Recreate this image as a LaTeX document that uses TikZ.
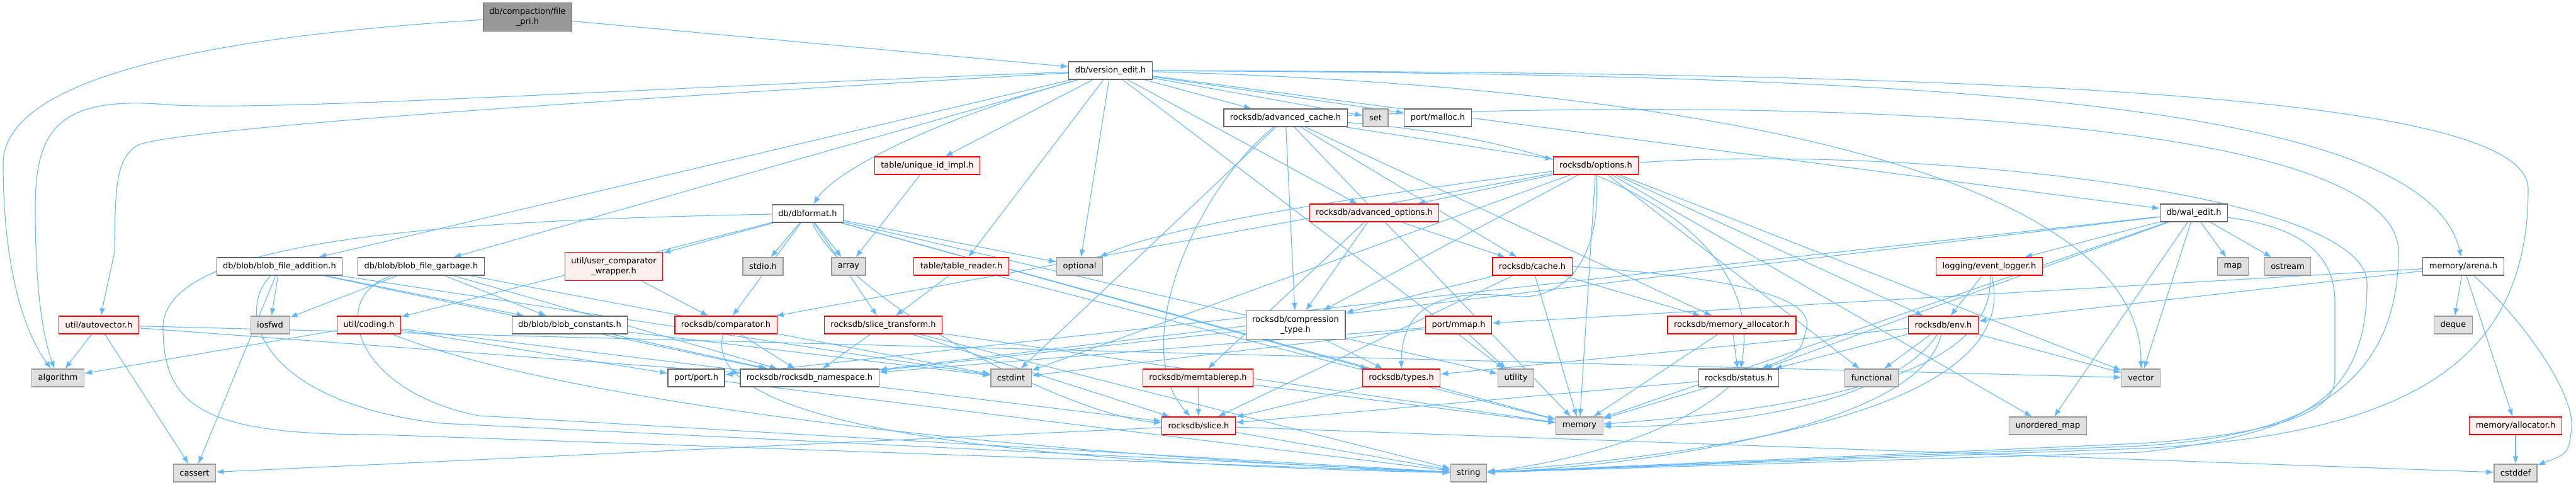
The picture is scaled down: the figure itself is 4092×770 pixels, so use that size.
\documentclass[tikz,border=0pt]{standalone}
\usepackage{fontspec}
\setmainfont{DejaVu Sans}
\usetikzlibrary{arrows.meta,backgrounds}
\definecolor{edgeblue}{HTML}{63B8FF}
\definecolor{sysfill}{HTML}{E0E0E0}
\definecolor{sysdraw}{HTML}{999999}
\definecolor{plaindraw}{HTML}{666666}
\definecolor{cutfill}{HTML}{FFF0F0}
\definecolor{rootfill}{HTML}{999999}
\tikzset{
  plainfile/.style={
    shape = rectangle,
    draw = plaindraw,
    fill = white,
    line width = 0.6pt,
    inner xsep = 5pt,
    inner ysep = 0pt,
    minimum height = 14pt,
    font = \fontsize{6.5}{7.8}\selectfont
  },
  sysfile/.style={plainfile, fill = sysfill, draw = sysdraw},
  cutfile/.style={plainfile, fill = cutfill, draw = red},
  rootfile/.style={plainfile, fill = rootfill, align = center, minimum height = 22.5pt},
  dbl/.style={align = center, minimum height = 22.5pt},
  incl/.style={draw = edgeblue, line width = 0.55pt, -{Latex[length=6pt,width=4.5pt]}},
}

\begin{document}
\begin{tikzpicture}[x=0.5pt,y=-0.5pt]
  \useasboundingbox (0,0) rectangle (4092,770);

  % files, row by row
  \node[rootfile] (filepri) at (838,27) {db/compaction/file\\\_pri.h};
  \node[plainfile] (verEdit) at (1764,112) {db/version\_edit.h};
  \node[plainfile] (advCache) at (2042,187) {rocksdb/advanced\_cache.h};
  \node[sysfile] (set) at (2185,187) {set};
  \node[plainfile] (malloc) at (2284,187) {port/malloc.h};
  \node[cutfile] (uniqueId) at (1473,263) {table/unique\_id\_impl.h};
  \node[cutfile] (options) at (2535,263) {rocksdb/options.h};
  \node[plainfile] (dbformat) at (1283,339) {db/dbformat.h};
  \node[cutfile] (advOpts) at (2183,338) {rocksdb/advanced\_options.h};
  \node[plainfile] (walEdit) at (3485,338) {db/wal\_edit.h};

  \node[plainfile] (blobAdd) at (444,423) {db/blob/blob\_file\_addition.h};
  \node[plainfile] (blobGarb) at (669,423) {db/blob/blob\_file\_garbage.h};
  \node[cutfile, dbl] (ucw) at (975,423) {util/user\_comparator\\\_wrapper.h};
  \node[sysfile] (stdio) at (1212,423) {stdio.h};
  \node[sysfile] (array) at (1348,423) {array};
  \node[cutfile] (tableReader) at (1527,423) {table/table\_reader.h};
  \node[sysfile] (optional) at (1715,423) {optional};
  \node[cutfile] (cache) at (2434,423) {rocksdb/cache.h};
  \node[cutfile] (eventLogger) at (3160,423) {logging/event\_logger.h};
  \node[sysfile] (map) at (3547,423) {map};
  \node[sysfile] (ostream) at (3634,423) {ostream};
  \node[plainfile] (arena) at (3913,423) {memory/arena.h};

  \node[cutfile] (autovec) at (157,516) {util/autovector.h};
  \node[sysfile] (iosfwd) at (429,516) {iosfwd};
  \node[cutfile] (coding) at (586,516) {util/coding.h};
  \node[plainfile] (blobConst) at (905,516) {db/blob/blob\_constants.h};
  \node[cutfile] (comparator) at (1153,516) {rocksdb/comparator.h};
  \node[cutfile] (sliceTrans) at (1403,516) {rocksdb/slice\_transform.h};
  \node[plainfile, dbl] (compType) at (2058,516) {rocksdb/compression\\\_type.h};
  \node[cutfile] (mmap) at (2317,516) {port/mmap.h};
  \node[cutfile] (memAlloc) at (2751,516) {rocksdb/memory\_allocator.h};
  \node[cutfile] (env) at (3087,516) {rocksdb/env.h};
  \node[sysfile] (deque) at (3897,516) {deque};

  \node[sysfile] (algorithm) at (92,600) {algorithm};
  \node[plainfile] (port) at (1106,600) {port/port.h};
  \node[plainfile] (nspace) at (1286,600) {rocksdb/rocksdb\_namespace.h};
  \node[sysfile] (cstdint) at (1606,600) {cstdint};
  \node[cutfile] (memtablerep) at (1903,600) {rocksdb/memtablerep.h};
  \node[cutfile] (types) at (2226,600) {rocksdb/types.h};
  \node[sysfile] (utility) at (2408,600) {utility};
  \node[plainfile] (status) at (2762,600) {rocksdb/status.h};
  \node[sysfile] (functional) at (2973,600) {functional};
  \node[sysfile] (vector) at (3401,600) {vector};

  \node[cutfile] (slice) at (1904,676) {rocksdb/slice.h};
  \node[sysfile] (memory) at (2509,676) {memory};
  \node[sysfile] (umap) at (3253,676) {unordered\_map};
  \node[cutfile] (allocator) at (3996,676) {memory/allocator.h};

  \node[sysfile] (cassert) at (309,751) {cassert};
  \node[sysfile] (string) at (2333,751) {string};
  \node[sysfile] (cstddef) at (3996,751) {cstddef};

  \begin{pgfonlayer}{background}
    % db/compaction/file_pri.h
    \draw[incl] (filepri) -- (verEdit);
    \draw[incl] (filepri) .. controls (300,60) and (5,130) .. (5,260) .. controls (5,430) and (40,530) .. (algorithm);

    % db/version_edit.h
    \draw[incl] (verEdit) .. controls (1000,140) and (400,180) .. (250,165) .. controls (90,155) and (56,210) .. (56,330) .. controls (56,470) and (70,540) .. (algorithm);
    \draw[incl] (verEdit) .. controls (1100,150) and (300,200) .. (220,230) .. controls (183,250) and (183,300) .. (182,400) -- (autovec);
    \draw[incl] (verEdit) -- (blobAdd);
    \draw[incl] (verEdit) -- (blobGarb);
    \draw[incl] (verEdit) .. controls (1450,200) and (1320,280) .. (dbformat);
    \draw[incl] (verEdit) -- (uniqueId);
    \draw[incl] (verEdit) -- (tableReader);
    \draw[incl] (verEdit) -- (optional);
    \draw[incl] (verEdit) -- (advCache);
    \draw[incl] (verEdit) -- (set);
    \draw[incl] (verEdit) -- (malloc);
    \draw[incl] (verEdit) -- (advOpts);
    \draw[incl] (verEdit) -- (walEdit);
    \draw[incl] (verEdit) -- (utility);
    \draw[incl] (verEdit) .. controls (2800,140) and (3401,300) .. (vector);
    \draw[incl] (verEdit) .. controls (3000,118) and (3850,150) .. (arena);
    \draw[incl] (verEdit) .. controls (3200,115) and (4016,150) .. (4016,300) .. controls (4016,560) and (3850,690) .. (3400,712) -- (string);

    % db/blob/blob_file_addition.h
    \draw[incl] (blobAdd) -- (cassert);
    \draw[incl] (blobAdd) -- (iosfwd);
    \draw[incl] (blobAdd) -- (blobConst);
    \draw[incl] (blobAdd) -- (nspace);
    \draw[incl] (blobAdd) -- (cstdint);
    \draw[incl] (blobAdd) .. controls (370,500) and (420,640) .. (700,672) -- (string);

    % db/blob/blob_file_garbage.h
    \draw[incl] (blobGarb) -- (iosfwd);
    \draw[incl] (blobGarb) -- (blobConst);
    \draw[incl] (blobGarb) -- (nspace);
    \draw[incl] (blobGarb) -- (cstdint);
    \draw[incl] (blobGarb) .. controls (520,470) and (560,620) .. (760,660) -- (string);

    % util/autovector.h
    \draw[incl] (autovec) -- (algorithm);
    \draw[incl] (autovec) -- (cassert);
    \draw[incl] (autovec) -- (nspace);
    \draw[incl] (autovec) -- (vector);

    % util/coding.h
    \draw[incl] (coding) -- (algorithm);
    \draw[incl] (coding) -- (port);
    \draw[incl] (coding) -- (slice);
    \draw[incl] (coding) .. controls (900,640) and (1600,720) .. (string);

    % db/dbformat.h
    \draw[incl] (dbformat) -- (ucw);
    \draw[incl] (dbformat) -- (coding);
    \draw[incl] (dbformat) -- (comparator);
    \draw[incl] (dbformat) -- (stdio);
    \draw[incl] (dbformat) -- (array);
    \draw[incl] (dbformat) -- (sliceTrans);
    \draw[incl] (dbformat) -- (optional);
    \draw[incl] (dbformat) .. controls (1350,480) and (1700,660) .. (slice);
    \draw[incl] (dbformat) -- (types);
    \draw[incl] (dbformat) -- (memory);
    \draw[incl] (dbformat) -- (utility);
    \draw[incl] (dbformat) .. controls (700,350) and (259,380) .. (259,520) .. controls (259,650) and (330,690) .. (600,690) -- (string);

    % single includes
    \draw[incl] (uniqueId) -- (array);
    \draw[incl] (ucw) -- (comparator);
    \draw[incl] (blobConst) -- (cstdint);
    \draw[incl] (blobConst) -- (nspace);
    \draw[incl] (comparator) -- (nspace);
    \draw[incl] (comparator) .. controls (1100,700) and (1800,740) .. (string);
    \draw[incl] (sliceTrans) -- (nspace);
    \draw[incl] (sliceTrans) -- (slice);
    \draw[incl] (sliceTrans) -- (memory);
    \draw[incl] (sliceTrans) -- (string);
    \draw[incl] (tableReader) -- (sliceTrans);
    \draw[incl] (tableReader) -- (memory);

    % rocksdb/advanced_cache.h
    \draw[incl] (advCache) -- (options);
    \draw[incl] (advCache) -- (cache);
    \draw[incl] (advCache) -- (compType);
    \draw[incl] (advCache) -- (cstdint);
    \draw[incl] (advCache) .. controls (1900,300) and (1790,550) .. (slice);
    \draw[incl] (advCache) -- (memAlloc);
    \draw[incl] (advCache) -- (memory);
    \draw[incl] (advCache) .. controls (2600,230) and (2800,400) .. (status);
    \draw[incl] (advCache) .. controls (3000,150) and (3810,200) .. (3810,400) .. controls (3810,650) and (3600,695) .. (3400,708) -- (string);

    % rocksdb/options.h
    \draw[incl] (options) -- (advOpts);
    \draw[incl] (options) -- (comparator);
    \draw[incl] (options) -- (compType);
    \draw[incl] (options) -- (env);
    \draw[incl] (options) .. controls (2545,420) and (2480,480) .. (2400,470) .. controls (2300,460) and (2226,480) .. (types);
    \draw[incl] (options) .. controls (2100,320) and (1850,360) .. (optional);
    \draw[incl] (options) -- (memory);
    \draw[incl] (options) -- (functional);
    \draw[incl] (options) -- (umap);
    \draw[incl] (options) -- (vector);
    \draw[incl] (options) -- (cstdint);
    \draw[incl] (options) .. controls (3000,230) and (3760,300) .. (3760,450) .. controls (3760,640) and (3650,690) .. (3400,718) -- (string);

    % rocksdb/advanced_options.h
    \draw[incl] (advOpts) -- (cache);
    \draw[incl] (advOpts) -- (compType);
    \draw[incl] (advOpts) -- (memtablerep);

    % rocksdb/cache.h
    \draw[incl] (cache) -- (compType);
    \draw[incl] (cache) -- (memAlloc);
    \draw[incl] (cache) -- (memory);
    \draw[incl] (cache) -- (slice);
    \draw[incl] (cache.east) .. controls (2750,440) and (2880,470) .. (2870,520) .. controls (2860,560) .. (status);

    % rocksdb/compression_type.h, port/mmap.h
    \draw[incl] (compType) -- (types);
    \draw[incl] (compType) -- (nspace);
    \draw[incl] (mmap) -- (utility);
    \draw[incl] (mmap) -- (cstdint);
    \draw[incl] (mmap) -- (nspace);

    % rocksdb/memory_allocator.h, rocksdb/env.h
    \draw[incl] (memAlloc) -- (status);
    \draw[incl] (memAlloc) -- (memory);
    \draw[incl] (env) -- (types);
    \draw[incl] (env) -- (status);
    \draw[incl] (env) -- (functional);
    \draw[incl] (env) -- (vector);
    \draw[incl] (env) .. controls (3000,650) and (2700,680) .. (memory);
    \draw[incl] (env) .. controls (3050,680) and (2600,740) .. (string);

    % logging/event_logger.h
    \draw[incl] (eventLogger) -- (env);
    \draw[incl] (eventLogger) .. controls (3170,560) and (3000,640) .. (memory);
    \draw[incl] (eventLogger) .. controls (3200,580) and (3000,700) .. (string);

    % db/wal_edit.h
    \draw[incl] (walEdit) -- (eventLogger);
    \draw[incl] (walEdit) -- (map);
    \draw[incl] (walEdit) -- (ostream);
    \draw[incl] (walEdit) -- (port);
    \draw[incl] (walEdit) -- (nspace);
    \draw[incl] (walEdit) -- (status);
    \draw[incl] (walEdit) -- (memory);
    \draw[incl] (walEdit) -- (umap);
    \draw[incl] (walEdit) -- (vector);
    \draw[incl] (walEdit) .. controls (3650,360) and (3709,400) .. (3709,480) -- (3709,600) .. controls (3709,660) and (3600,690) .. (3400,704) -- (string);

    % memory/arena.h
    \draw[incl] (arena) -- (mmap);
    \draw[incl] (arena) -- (env);
    \draw[incl] (arena) -- (deque);
    \draw[incl] (arena) -- (allocator);
    \draw[incl] (arena) .. controls (4000,500) and (4090,620) .. (4085,680) .. controls (4080,720) .. (cstddef);
    \draw[incl] (allocator) -- (cstddef);

    % leaves
    \draw[incl] (port) -- (string);
    \draw[incl] (types) -- (slice);
    \draw[incl] (memtablerep) -- (slice);
    \draw[incl] (memtablerep) -- (memory);
    \draw[incl] (status) -- (slice);
    \draw[incl] (status) -- (memory);
    \draw[incl] (status) .. controls (2650,700) and (2450,740) .. (string);
    \draw[incl] (slice) -- (cassert);
    \draw[incl] (slice) -- (cstddef);
    \draw[incl] (slice) -- (string);
  \end{pgfonlayer}
\end{tikzpicture}
\end{document}
